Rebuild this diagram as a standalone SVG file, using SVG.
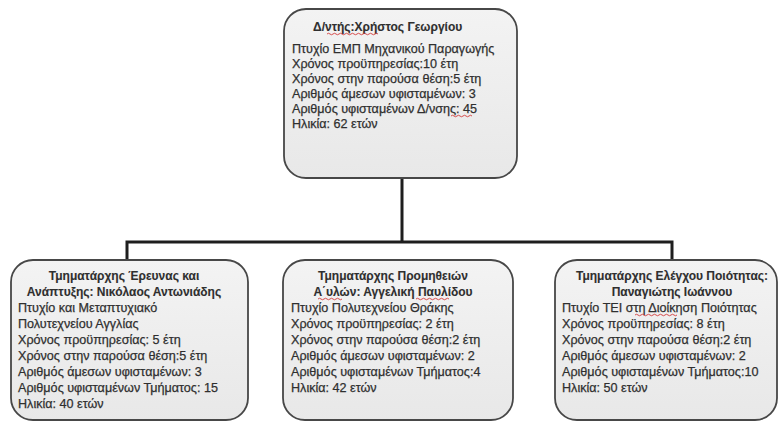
<svg xmlns="http://www.w3.org/2000/svg" width="779" height="424" viewBox="0 0 779 424">
<defs>
<linearGradient id="g" x1="0" y1="0" x2="0" y2="1">
<stop offset="0" stop-color="#f3f3f3"/>
<stop offset="1" stop-color="#e8e8e8"/>
</linearGradient>
</defs>
<style>
.box{fill:url(#g);stroke:#474747;stroke-width:1.8}
.t{font-family:"Liberation Sans",Arial,sans-serif;font-size:12.6px;fill:#2f2f2f;stroke:#2f2f2f;stroke-width:0.25}
.b{font-weight:bold;font-size:12px;stroke-width:0.1}
.c{text-anchor:middle}
.ln{fill:none;stroke:#1e1e1e;stroke-width:3}
.sq{fill:none;stroke:#d23a3a;stroke-width:0.9}
</style>
<rect width="779" height="424" fill="#ffffff"/>
<g id="connectors">
<path class="ln" d="M402 178 V242 M127 242 H672 M127 240.5 V260 M672 240.5 V260"/>
</g>
<g id="node-director">
<rect class="box" x="284" y="9" width="233" height="169" rx="22"/>
<text class="t b" x="313" y="31">Δ/ντής:Χρήστος Γεωργίου</text>
<text class="t" x="292" y="53">Πτυχίο ΕΜΠ Μηχανικού Παραγωγής</text>
<text class="t" x="292" y="68">Χρόνος προϋπηρεσίας:10 έτη</text>
<text class="t" x="292" y="83">Χρόνος στην παρούσα θέση:5 έτη</text>
<text class="t" x="292" y="98">Αριθμός άμεσων υφισταμένων: 3</text>
<text class="t" x="292" y="113">Αριθμός υφισταμένων Δ/νσης: 45</text>
<text class="t" x="292" y="128">Ηλικία: 62 ετών</text>
<path class="sq" d="M327 34 q1.5 -1.5 3 0 t3 0 t3 0 t3 0 t3 0 t3 0 t3 0 t3 0 t3 0 t3 0 t3 0 t3 0 t3 0 t3 0 t3 0 t3 0 t3 0"/>
<path class="sq" d="M451 116 q1.5 -1.5 3 0 t3 0 t3 0 t3 0 t3 0 t3 0 t3 0"/>
</g>
<g id="node-rnd">
<rect class="box" x="11" y="260" width="237" height="160" rx="22"/>
<text class="t b c" x="124" y="280">Τμηματάρχης Έρευνας και</text>
<text class="t b c" x="124" y="296">Ανάπτυξης: Νικόλαος Αντωνιάδης</text>
<text class="t" x="18" y="312">Πτυχίο και Μεταπτυχιακό</text>
<text class="t" x="18" y="328">Πολυτεχνείου Αγγλίας</text>
<text class="t" x="18" y="344">Χρόνος προϋπηρεσίας: 5 έτη</text>
<text class="t" x="18" y="360">Χρόνος στην παρούσα θέση:5 έτη</text>
<text class="t" x="18" y="376">Αριθμός άμεσων υφισταμένων: 3</text>
<text class="t" x="18" y="392">Αριθμός υφισταμένων Τμήματος: 15</text>
<text class="t" x="18" y="408">Ηλικία: 40 ετών</text>
</g>
<g id="node-supplies">
<rect class="box" x="283" y="260" width="230" height="160" rx="22"/>
<text class="t b c" x="393" y="280">Τμηματάρχης Προμηθειών</text>
<text class="t b c" x="393" y="296">Α΄υλών: Αγγελική Παυλίδου</text>
<text class="t" x="291" y="312">Πτυχίο Πολυτεχνείου Θράκης</text>
<text class="t" x="291" y="328">Χρόνος προϋπηρεσίας: 2 έτη</text>
<text class="t" x="291" y="344">Χρόνος στην παρούσα θέση:2 έτη</text>
<text class="t" x="291" y="360">Αριθμός άμεσων υφισταμένων: 2</text>
<text class="t" x="291" y="376">Αριθμός υφισταμένων Τμήματος:4</text>
<text class="t" x="291" y="392">Ηλικία: 42 ετών</text>
<path class="sq" d="M318 299 q1.5 -1.5 3 0 t3 0 t3 0 t3 0 t3 0 t3 0 t3 0 t3 0"/>
<path class="sq" d="M416 299 q1.5 -1.5 3 0 t3 0 t3 0 t3 0 t3 0 t3 0 t3 0 t3 0 t3 0 t3 0 t3 0"/>
</g>
<g id="node-quality">
<rect class="box" x="555" y="260" width="222" height="160" rx="22"/>
<text class="t b c" x="672" y="280">Τμηματάρχης Ελέγχου Ποιότητας:</text>
<text class="t b c" x="672" y="296">Παναγιώτης Ιωάννου</text>
<text class="t" x="562" y="312">Πτυχίο ΤΕΙ στη Διοίκηση Ποιότητας</text>
<text class="t" x="562" y="328">Χρόνος προϋπηρεσίας: 8 έτη</text>
<text class="t" x="562" y="344">Χρόνος στην παρούσα θέση:2 έτη</text>
<text class="t" x="562" y="360">Αριθμός άμεσων υφισταμένων: 2</text>
<text class="t" x="562" y="376">Αριθμός υφισταμένων Τμήματος:10</text>
<text class="t" x="562" y="392">Ηλικία: 50 ετών</text>
<path class="sq" d="M635 315 q1.5 -1.5 3 0 t3 0 t3 0 t3 0 t3 0 t3 0 t3 0 t3 0 t3 0 t3 0 t3 0 t3 0 t3 0 t3 0"/>
</g>
</svg>
